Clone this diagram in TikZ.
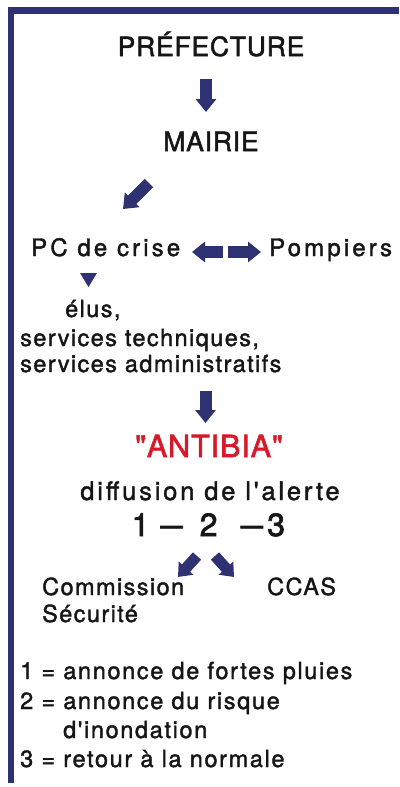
\documentclass[tikz,border=0pt]{standalone}
\usepackage{fontspec}
\usepackage{graphicx}
\setmainfont{TeX Gyre Heros}
\newfontfamily\bodyf[LetterSpace=6,FakeBold=1.6]{TeX Gyre Heros}
\newfontfamily\legf[LetterSpace=7,FakeBold=1.6]{TeX Gyre Heros}
\newfontfamily\pcf[LetterSpace=13,FakeBold=1.6]{TeX Gyre Heros}
\newfontfamily\titlef[LetterSpace=3,FakeBold=2]{TeX Gyre Heros}
\newfontfamily\widef[LetterSpace=11,FakeBold=1.6]{TeX Gyre Heros}
\newfontfamily\numf[FakeBold=2.2]{TeX Gyre Heros}
\usetikzlibrary{arrows.meta}
\definecolor{navy}{HTML}{2E3172}
\definecolor{ink}{HTML}{161616}
\definecolor{alert}{HTML}{D7192A}
\newcommand{\longdash}{\scalebox{1.25}[1]{–}}
\begin{document}
\begin{tikzpicture}[x=1pt,y=-1pt,
  txt/.style={inner sep=0pt, text=ink, font=\bodyf\fontsize{23.5}{28}\selectfont},
  legtxt/.style={inner sep=0pt, text=ink, font=\legf\fontsize{23.5}{28}\selectfont},
  pctxt/.style={inner sep=0pt, text=ink, font=\pcf\fontsize{24}{28}\selectfont},
  title/.style={inner sep=0pt, text=ink, font=\titlef\fontsize{26.5}{30}\selectfont},
  blk/.style={line width=12pt, draw=navy, -{Triangle[width=20pt,length=13pt]}},
  blks/.style={line width=11pt, draw=navy, -{Triangle[width=19pt,length=12pt]}}]
\useasboundingbox (0,0) rectangle (399,787);
% frame
\draw[navy, line width=6.5pt, line join=miter] (399,10.5) -- (11,10.5) -- (11,783);
% texts
\node[title, anchor=base] (pref) at (211,56) {PRÉFECTURE};
\node[title, anchor=base] (mairie) at (211,151) {MAIRIE};
\node[pctxt, anchor=base west] (pc) at (31,256) {PC de crise};
\node[pctxt, anchor=base west] (pomp) at (269,256) {Pompiers};
\node[txt, anchor=base west] (elus) at (65,317) {élus,};
\node[txt, anchor=base west] (st) at (20,346) {services techniques,};
\node[txt, anchor=base west] (sa) at (20,372) {services administratifs};
\node[inner sep=0pt, text=alert, font=\titlef\fontsize{30.5}{34}\selectfont, anchor=base] (antibia) at (209,457) {"ANTIBIA"};
\node[inner sep=0pt, text=ink, font=\widef\fontsize{25.5}{30}\selectfont, anchor=base] (diff) at (210,500) {diffusion de l'alerte};
\node[inner sep=0pt, text=ink, font=\numf\fontsize{32}{36}\selectfont, anchor=base west] (nums) at (131.5,536)
  {1\hspace{11pt}\longdash\hspace{17pt}2\hspace{23.2pt}\longdash\hspace{4.3pt}3};
\node[txt, anchor=base west] (comm) at (42,595) {Commission};
\node[txt, anchor=base west] (ccas) at (267,595) {CCAS};
\node[txt, anchor=base west] (secu) at (42,622) {Sécurité};
\node[legtxt, anchor=base west] (l1) at (20,679) {1 = annonce de fortes pluies};
\node[legtxt, anchor=base west] (l2) at (20,709) {2 = annonce du risque};
\node[legtxt, anchor=base west] (l2b) at (63,738) {d'inondation};
\node[legtxt, anchor=base west] (l3) at (20,767) {3 = retour à la normale};
% arrow ends
\coordinate (a1s) at (206,79);  \coordinate (a1e) at (206,112);
\coordinate (a2s) at (149,183); \coordinate (a2e) at (123,209);
\coordinate (a3s) at (223,252); \coordinate (a3e) at (192,252);
\coordinate (a4s) at (228,252); \coordinate (a4e) at (261,252);
\coordinate (a5s) at (205.5,391); \coordinate (a5e) at (205.5,423);
\coordinate (a6s) at (197,556); \coordinate (a6e) at (178,577);
\coordinate (a7s) at (215,556); \coordinate (a7e) at (234,577);
\draw[blk] (a1s) -- (a1e);
\draw[blk] (a2s) -- (a2e);
\draw[blk] (a3s) -- (a3e);
\draw[blk] (a4s) -- (a4e);
\draw[blk] (a5s) -- (a5e);
\draw[blks] (a6s) -- (a6e);
\draw[blks] (a7s) -- (a7e);
% small triangle
\fill[navy] (80,273) -- (97,273) -- (88.5,287) -- cycle;
\end{tikzpicture}
\end{document}
